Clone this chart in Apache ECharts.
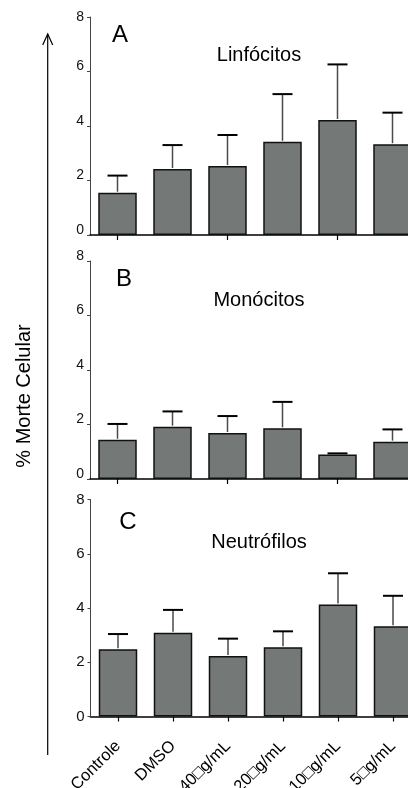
<!DOCTYPE html>
<html>
<head>
<meta charset="utf-8">
<script src="https://cdn.jsdelivr.net/npm/echarts@6/dist/echarts.min.js"></script>
<style>
html,body{margin:0;padding:0;background:#fff;}
#chart{width:408px;height:788px;}
</style>
</head>
<body>
<div id="chart"></div>
<script>
// ---- data ----
const categories = ['Controle', 'DMSO', '40\u25A1g/mL', '20\u25A1g/mL', '10\u25A1g/mL', '5\u25A1g/mL'];
const yTicks = [0, 2, 4, 6, 8];
const panelLetters = ['A', 'B', 'C'];
const panelTitles = ['Linfócitos', 'Monócitos', 'Neutrófilos'];
const yAxisTitle = '% Morte Celular';

const linfMean = [1.55, 2.42, 2.53, 3.42, 4.22, 3.33];
const linfSD   = [0.63, 0.88, 1.14, 1.75, 2.04, 1.16];
const monoMean = [1.44, 1.92, 1.69, 1.86, 0.90, 1.37];
const monoSD   = [0.58, 0.56, 0.62, 0.97, 0.04, 0.45];
const neutMean = [2.48, 3.09, 2.23, 2.55, 4.13, 3.33];
const neutSD   = [0.56, 0.84, 0.64, 0.59, 1.15, 1.12];

const means = [linfMean, monoMean, neutMean];
const sds = [linfSD, monoSD, neutSD];

// ---- layout ----
const FONT = 'Liberation Sans, Arial, sans-serif';
const grids = [
  {left: 90, top: 17, width: 330, height: 218},
  {left: 90, top: 261, width: 330, height: 218},
  {left: 90.5, top: 499.5, width: 330, height: 217}
];
const yLabelSize = [14, 14, 15];

const chart = echarts.init(document.getElementById('chart'), null, {renderer: 'canvas'});

const xAxes = [], yAxes = [], series = [];
grids.forEach((g, i) => {
  const fs = yLabelSize[i];
  xAxes.push({
    type: 'category', gridIndex: i, data: categories,
    axisLine: {show: true, lineStyle: {color: '#000', width: 1.5}},
    axisTick: {show: true, alignWithLabel: true, length: 5, lineStyle: {color: '#000', width: 1.2}},
    axisLabel: i === 2 ? {show: true, rotate: 45, fontSize: 16.5, fontFamily: FONT, color: '#000', margin: 27, interval: 0} : {show: false},
    splitLine: {show: false}
  });
  yAxes.push({
    type: 'value', gridIndex: i, min: 0, max: 8, interval: 2,
    axisLine: {show: true, lineStyle: {color: '#444', width: 1}},
    axisTick: {show: true, length: 3, lineStyle: {color: '#444', width: 1}},
    axisLabel: {show: true, fontSize: fs, fontFamily: FONT, color: '#111', margin: 6, verticalAlign: 'middle',
      formatter: v => {
        if (!yTicks.includes(v)) return '';
        if (i === 2 || (i === 0 && v === 8)) return '{m|' + v + '}';
        return '{b|' + v + '}';
      },
      rich: {
        m: {fontSize: fs, fontFamily: FONT, color: '#111'},
        b: {fontSize: fs, fontFamily: FONT, color: '#111', padding: [0, 0, 10, 0]}
      }
    },
    splitLine: {show: false}
  });
  series.push({
    type: 'bar', xAxisIndex: i, yAxisIndex: i,
    data: means[i], barCategoryGap: '30%',
    itemStyle: {color: '#747877', borderColor: '#111', borderWidth: 1.5},
    silent: true, z: 2
  });
  series.push({
    type: 'custom', xAxisIndex: i, yAxisIndex: i,
    data: means[i].map((m, k) => [k, m, m + sds[i][k]]),
    renderItem: (params, api) => {
      const base = api.coord([api.value(0), api.value(1)]);
      const top = api.coord([api.value(0), api.value(2)]);
      return {
        type: 'group',
        children: [
          {type: 'line', shape: {x1: base[0], y1: base[1] - 1, x2: top[0], y2: top[1]}, style: {stroke: '#4a4a4a', lineWidth: 1.5}},
          {type: 'line', shape: {x1: top[0] - 10, y1: top[1], x2: top[0] + 10, y2: top[1]}, style: {stroke: '#000', lineWidth: 2}}
        ]
      };
    },
    silent: true, z: 3
  });
});

const letterPos = [[120, 35], [124, 279.5], [128, 522.5]];
const titlePos = [[259, 55], [259, 300], [259, 542]];
const graphics = [];
for (let i = 0; i < 3; i++) {
  graphics.push({type: 'text', x: letterPos[i][0], y: letterPos[i][1],
    style: {text: panelLetters[i], fontSize: 24, fontFamily: FONT, fill: '#000', align: 'center', verticalAlign: 'middle'}});
  graphics.push({type: 'text', x: titlePos[i][0], y: titlePos[i][1],
    style: {text: panelTitles[i], fontSize: 20, fontFamily: FONT, fill: '#000', align: 'center', verticalAlign: 'middle'}});
}
// y-axis title
graphics.push({type: 'text', x: 24.5, y: 396, rotation: Math.PI / 2,
  style: {text: yAxisTitle, fontSize: 20, fontFamily: FONT, fill: '#000', align: 'center', verticalAlign: 'middle'}});
// arrow
graphics.push({type: 'line', shape: {x1: 47.7, y1: 34, x2: 47.7, y2: 755}, style: {stroke: '#000', lineWidth: 1.2}});
graphics.push({type: 'polyline', shape: {points: [[42.7, 45], [47.7, 34], [52.7, 45]]}, style: {stroke: '#000', lineWidth: 1.2, fill: null}});

chart.setOption({
  animation: false,
  backgroundColor: '#fff',
  grid: grids.map(g => Object.assign({containLabel: false, outerBoundsMode: 'none'}, g)),
  xAxis: xAxes,
  yAxis: yAxes,
  series: series,
  graphic: graphics
});
</script>
</body>
</html>
